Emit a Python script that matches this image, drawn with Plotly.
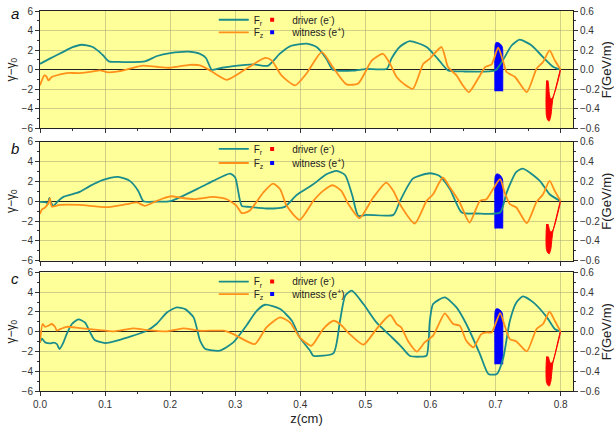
import plotly.graph_objects as go

# ---------------- data (F in GeV/m, beams in gamma - gamma0) ----------------
z_fr_a = [0.0, 0.01, 0.02, 0.035, 0.05, 0.064, 0.08, 0.09, 0.097, 0.106, 0.12, 0.14, 0.161, 0.18, 0.2, 0.228, 0.245, 0.255, 0.264,
          0.28, 0.297, 0.328, 0.35, 0.3686, 0.384, 0.41, 0.425, 0.44, 0.45, 0.48, 0.5, 0.533, 0.54, 0.553, 0.568, 0.594, 0.611,
          0.627, 0.65, 0.7, 0.711, 0.725, 0.737, 0.755, 0.768, 0.789, 0.8]
fr_a = [0.06, 0.095, 0.13, 0.18, 0.23, 0.255, 0.235, 0.19, 0.146, 0.085, 0.08, 0.078, 0.085, 0.14, 0.17, 0.185, 0.165, 0.12, 0.0,
        0.02, 0.037, 0.055, 0.04, 0.164, 0.239, 0.266, 0.232, 0.113, 0.0, -0.01, 0.007, 0.01, 0.113, 0.235, 0.293, 0.232, 0.113,
        -0.007, -0.018, -0.005, 0.095, 0.25, 0.307, 0.25, 0.163, 0.027, 0.0]

z_fz_a = [0.0, 0.0066, 0.01, 0.013, 0.018, 0.031, 0.041, 0.061, 0.08, 0.092, 0.105, 0.118, 0.138, 0.158, 0.179, 0.2, 0.23, 0.246,
          0.262, 0.287, 0.317, 0.346, 0.356, 0.371, 0.392, 0.41, 0.433, 0.45, 0.471, 0.489, 0.51, 0.527, 0.538, 0.548, 0.56,
          0.573, 0.589, 0.599, 0.617, 0.627, 0.64, 0.648, 0.659, 0.676, 0.684, 0.694, 0.704, 0.712, 0.717, 0.73, 0.748, 0.763,
          0.773, 0.783, 0.791, 0.8]
fz_a = [-0.16, -0.058, -0.07, -0.11, -0.075, -0.048, -0.034, -0.034, -0.02, -0.007, -0.028, -0.02, 0.01, 0.041, 0.03, 0.02, 0.05,
        0.044, -0.01, -0.103, 0.01, 0.12, 0.095, -0.058, -0.16, -0.034, 0.18, 0.027, -0.15, -0.14, 0.095, 0.163, 0.06, -0.075,
        -0.15, -0.195, 0.061, 0.113, 0.232, 0.027, -0.058, -0.143, -0.229, -0.058, 0.027, 0.055, 0.225, 0.078, -0.024, -0.075,
        -0.229, 0.01, 0.078, 0.198, 0.096, 0.0]

z_fr_b = [0.0, 0.0102, 0.012, 0.0143, 0.016, 0.0205, 0.028, 0.036, 0.046, 0.061, 0.077, 0.097, 0.12, 0.138, 0.151, 0.159, 0.18,
          0.2, 0.246, 0.266, 0.292, 0.3, 0.31, 0.322, 0.348, 0.376, 0.394, 0.42, 0.44, 0.456, 0.469, 0.48, 0.489, 0.502, 0.543,
          0.553, 0.573, 0.599, 0.614, 0.63, 0.648, 0.671, 0.707, 0.717, 0.732, 0.742, 0.768, 0.783, 0.8]
fr_b = [-0.007, -0.013, -0.03, 0.034, 0.0, -0.047, 0.003, 0.044, 0.064, 0.094, 0.155, 0.215, 0.245, 0.205, 0.104, 0.0, -0.005,
        0.0, 0.138, 0.205, 0.279, 0.239, -0.047, -0.057, -0.074, -0.057, 0.06, 0.171, 0.272, 0.306, 0.262, 0.054, -0.148,
        -0.138, -0.138, 0.0, 0.228, 0.282, 0.255, 0.121, -0.114, -0.124, -0.114, 0.087, 0.296, 0.329, 0.205, 0.07, 0.0]

z_fz_b = [0.0, 0.0026, 0.0077, 0.0133, 0.0154, 0.018, 0.031, 0.061, 0.102, 0.133, 0.149, 0.161, 0.174, 0.189, 0.202, 0.215,
          0.236, 0.246, 0.266, 0.287, 0.302, 0.31, 0.322, 0.343, 0.358, 0.369, 0.379, 0.399, 0.42, 0.435, 0.45, 0.463, 0.474,
          0.491, 0.512, 0.532, 0.543, 0.553, 0.576, 0.594, 0.604, 0.619, 0.63, 0.645, 0.66, 0.676, 0.686, 0.696, 0.707, 0.714,
          0.722, 0.732, 0.748, 0.763, 0.773, 0.783, 0.791, 0.8]
fz_b = [-0.13, -0.087, -0.064, -0.013, 0.027, -0.054, -0.037, -0.037, -0.06, -0.03, -0.013, -0.047, -0.013, 0.027, 0.05, 0.037,
        0.02, 0.027, 0.044, 0.02, -0.047, -0.12, -0.097, 0.087, 0.178, 0.121, -0.047, -0.188, 0.003, 0.104, 0.161, 0.104, -0.03,
        -0.171, 0.037, 0.188, 0.104, -0.03, -0.225, 0.003, 0.07, 0.239, 0.138, -0.013, -0.215, 0.003, 0.02, 0.121, 0.222, 0.087,
        -0.03, -0.064, -0.222, -0.007, 0.07, 0.205, 0.104, 0.0]

z_fr_c = [0.0, 0.003, 0.008, 0.0154, 0.0205, 0.026, 0.03, 0.036, 0.041, 0.049, 0.059, 0.069, 0.077, 0.084, 0.1, 0.118, 0.143,
          0.164, 0.179, 0.195, 0.21, 0.223, 0.236, 0.246, 0.254, 0.261, 0.276, 0.297, 0.317, 0.333, 0.346, 0.369, 0.387, 0.399,
          0.415, 0.42, 0.451, 0.461, 0.469, 0.479, 0.497, 0.517, 0.538, 0.555, 0.568, 0.584, 0.594, 0.599, 0.604, 0.622, 0.64,
          0.655, 0.676, 0.689, 0.702, 0.712, 0.722, 0.732, 0.742, 0.758, 0.779, 0.791, 0.8]
fr_c = [-0.108, -0.07, -0.108, -0.118, -0.111, -0.125, -0.175, -0.108, -0.024, 0.078, 0.125, 0.094, -0.007, -0.084, -0.115,
        -0.091, -0.04, 0.01, 0.078, 0.195, 0.246, 0.229, 0.145, -0.091, -0.175, -0.185, -0.192, -0.108, 0.061, 0.212, 0.273,
        0.229, 0.111, -0.057, -0.192, -0.243, -0.216, 0.111, 0.364, 0.415, 0.28, 0.094, -0.04, -0.15, -0.243, -0.253, -0.243,
        0.111, 0.28, 0.347, 0.246, 0.078, -0.226, -0.428, -0.428, -0.26, 0.111, 0.297, 0.357, 0.297, 0.145, 0.027, 0.0]

z_fz_c = [0.0, 0.004, 0.0077, 0.013, 0.018, 0.023, 0.026, 0.031, 0.041, 0.061, 0.092, 0.113, 0.143, 0.164, 0.195, 0.22, 0.246,
          0.282, 0.297, 0.33, 0.348, 0.369, 0.384, 0.399, 0.417, 0.435, 0.451, 0.461, 0.476, 0.497, 0.517, 0.538, 0.548, 0.555,
          0.566, 0.579, 0.591, 0.604, 0.614, 0.622, 0.635, 0.645, 0.655, 0.666, 0.678, 0.686, 0.694, 0.707, 0.714, 0.722, 0.732,
          0.748, 0.763, 0.773, 0.783, 0.791, 0.8]
fz_c = [-0.108, 0.078, 0.05, 0.061, 0.078, 0.05, 0.01, 0.027, 0.05, 0.037, 0.017, 0.003, 0.034, 0.017, 0.003, 0.034, 0.01, 0.01,
        -0.024, -0.125, 0.044, 0.145, 0.094, -0.057, -0.142, 0.027, 0.111, 0.078, -0.024, -0.131, 0.027, 0.169, 0.078, 0.044,
        -0.1, -0.202, -0.108, -0.04, 0.094, 0.185, 0.078, 0.061, -0.091, -0.158, -0.024, -0.007, -0.007, 0.189, 0.061, -0.074,
        -0.098, -0.199, 0.027, 0.078, 0.202, 0.111, 0.0]

# witness bunch (e+) outline in (z, gamma-gamma0)
wit_z = [0.699, 0.699, 0.6995, 0.7005, 0.702, 0.7045, 0.707, 0.709, 0.7105, 0.711, 0.711]
wit_g_a = [-2.2, 2.2, 2.55, 2.75, 2.8, 2.75, 2.65, 2.5, 2.3, 2.0, -2.2]
wit_g_b = [-2.75, 2.2, 2.5, 2.68, 2.75, 2.72, 2.62, 2.45, 2.25, 2.0, -2.75]
wit_g_c = [-3.3, 1.8, 2.1, 2.28, 2.33, 2.3, 2.2, 2.05, 1.85, 1.6, -3.3]

# driver bunch (e-) outline in (z, gamma-gamma0)
drv_z = [0.7785, 0.7778, 0.7775, 0.778, 0.780, 0.7825, 0.785, 0.7865, 0.788, 0.792, 0.796, 0.7995,
         0.799, 0.795, 0.791, 0.7875, 0.7845, 0.7825, 0.7815, 0.7805]
drv_g_a = [-1.1, -2.0, -3.5, -4.6, -5.15, -5.25, -4.7, -3.8, -3.0, -2.0, -0.9, 0.0,
           -0.3, -1.4, -2.3, -2.9, -3.0, -2.4, -1.6, -1.1]
drv_g_b = [-2.3, -3.0, -4.0, -4.8, -5.2, -5.3, -4.8, -3.9, -3.1, -2.0, -0.9, 0.0,
           -0.3, -1.4, -2.4, -3.0, -3.1, -2.8, -2.5, -2.3]
drv_g_c = [-2.5, -3.2, -4.2, -5.0, -5.4, -5.5, -5.0, -4.1, -3.2, -2.1, -0.9, 0.0,
           -0.3, -1.4, -2.4, -3.1, -3.2, -2.9, -2.6, -2.5]

panel_labels = ["a", "b", "c"]
x_ticks = [0.0, 0.1, 0.2, 0.3, 0.4, 0.5, 0.6, 0.7, 0.8]

TEAL = "#1A8C8C"
ORANGE = "#FF9019"
BG = "#FFFF99"
GRID = "rgba(170,170,120,0.55)"
FONT = "Liberation Sans, Arial, sans-serif"

panels = [
    (z_fr_a, fr_a, z_fz_a, fz_a, wit_g_a, drv_g_a),
    (z_fr_b, fr_b, z_fz_b, fz_b, wit_g_b, drv_g_b),
    (z_fr_c, fr_c, z_fz_c, fz_c, wit_g_c, drv_g_c),
]

domains = [[0.691, 1.0], [0.343, 0.656], [0.0, 0.312]]
# legend row centres (paper y) per panel
legend_rows = [(0.977, 0.944), (0.637, 0.600), (0.288, 0.255)]

fig = go.Figure()
layout = dict(
    width=614, height=427,
    margin=dict(l=40, r=41, t=11, b=36, autoexpand=False),
    paper_bgcolor="white", plot_bgcolor=BG,
    font=dict(family=FONT, size=10, color="#222"),
    showlegend=True,
)

leg_count = 0


def new_legend(x, y):
    global leg_count
    leg_count += 1
    key = "legend" if leg_count == 1 else f"legend{leg_count}"
    layout[key] = dict(x=x, y=y, xanchor="left", yanchor="middle",
                       bgcolor="rgba(0,0,0,0)", font=dict(size=10, color="#222"),
                       itemwidth=30, borderwidth=0)
    return key


for i, (zr, fr, zz, fz, wg, dg) in enumerate(panels):
    xa = "x" if i == 0 else f"x{i+1}"
    yl = f"y{2*i+1}" if i > 0 else "y"
    yr = f"y{2*i+2}"
    r1, r2 = legend_rows[i]
    lg_fr = new_legend(0.326, r1)
    lg_fz = new_legend(0.326, r2)
    lg_dr = new_legend(0.398, r1)
    lg_wi = new_legend(0.398, r2)
    # beams on left axis
    fig.add_trace(go.Scatter(x=wit_z, y=wg, mode="lines", fill="toself", fillcolor="#0000FF",
                             line=dict(color="#0000FF", width=1, shape="spline", smoothing=0.6),
                             xaxis=xa, yaxis=yl, showlegend=False, hoverinfo="skip"))
    fig.add_trace(go.Scatter(x=drv_z, y=dg, mode="lines", fill="toself", fillcolor="#FF0000",
                             line=dict(color="#FF0000", width=1, shape="spline", smoothing=0.5),
                             xaxis=xa, yaxis=yl, showlegend=False, hoverinfo="skip"))
    # fields on right axis
    fig.add_trace(go.Scatter(x=zr, y=fr, mode="lines", name="F<sub>r</sub>",
                             line=dict(color=TEAL, width=1.8, shape="spline", smoothing=0.6),
                             xaxis=xa, yaxis=yr, legend=lg_fr))
    fig.add_trace(go.Scatter(x=zz, y=fz, mode="lines", name="F<sub>z</sub>",
                             line=dict(color=ORANGE, width=1.8, shape="spline", smoothing=0.6),
                             xaxis=xa, yaxis=yr, legend=lg_fz))
    # legend entries for the bunches
    fig.add_trace(go.Scatter(x=[None], y=[None], mode="markers", name="driver (e<sup>-</sup>)",
                             marker=dict(symbol="square", size=4, color="#FF0000"),
                             xaxis=xa, yaxis=yl, legend=lg_dr))
    fig.add_trace(go.Scatter(x=[None], y=[None], mode="markers", name="witness (e<sup>+</sup>)",
                             marker=dict(symbol="square", size=4, color="#0000FF"),
                             xaxis=xa, yaxis=yl, legend=lg_wi))

    ax_key = "xaxis" if i == 0 else f"xaxis{i+1}"
    yl_key = "yaxis" if i == 0 else f"yaxis{2*i+1}"
    yr_key = f"yaxis{2*i+2}"
    layout[ax_key] = dict(
        domain=[0, 1], anchor=yl, range=[0, 0.819], tickvals=x_ticks,
        ticktext=[f"{v:.1f}" for v in x_ticks], automargin=False,
        showticklabels=(i == 2), ticks="outside", ticklen=4, tickcolor="#333",
        minor=dict(dtick=0.05, tick0=0, ticks="outside", ticklen=2, tickcolor="#333", showgrid=False),
        showline=True, linecolor="#222", linewidth=1, mirror=True,
        showgrid=True, gridcolor=GRID, gridwidth=1, zeroline=False,
        tickfont=dict(size=10, color="#333"),
        title=dict(text="z(cm)", font=dict(size=13, color="#222"), standoff=4) if i == 2 else None,
    )
    if i > 0:
        layout[ax_key]["matches"] = "x"
    layout[yl_key] = dict(
        domain=domains[i], anchor=xa, range=[-6, 6], tickvals=[-6, -4, -2, 0, 2, 4, 6],
        automargin=False, ticks="outside", ticklen=4, tickcolor="#333",
        minor=dict(dtick=1, ticks="outside", ticklen=2, tickcolor="#333", showgrid=False),
        showline=True, linecolor="#222", linewidth=1,
        showgrid=True, gridcolor=GRID, gridwidth=1,
        zeroline=True, zerolinecolor="#222", zerolinewidth=1,
        tickfont=dict(size=10, color="#333"),
        title=dict(text="\u03b3\u2212\u03b3<sub>0</sub>", font=dict(size=12, color="#222"), standoff=3),
    )
    layout[yr_key] = dict(
        overlaying=yl, side="right", anchor=xa, range=[-0.6, 0.6],
        tickvals=[-0.6, -0.4, -0.2, 0.0, 0.2, 0.4, 0.6], tickformat=".1f", automargin=False,
        ticks="outside", ticklen=4, tickcolor="#333",
        minor=dict(dtick=0.1, ticks="outside", ticklen=2, tickcolor="#333", showgrid=False),
        showline=True, linecolor="#222", linewidth=1,
        showgrid=False, zeroline=False,
        tickfont=dict(size=10, color="#333"),
        title=dict(text="F(GeV/m)", font=dict(size=13, color="#222"), standoff=3),
    )

annotations = []
label_y = [0.993, 0.638, 0.296]
for lab, yy in zip(panel_labels, label_y):
    annotations.append(dict(text=f"<i>{lab}</i>", x=-0.047, y=yy, xref="paper", yref="paper",
                            showarrow=False, font=dict(size=15, color="#111"), xanchor="center", yanchor="middle"))
layout["annotations"] = annotations

fig.update_layout(**layout)
# remove the browser's default 8px body margin so the figure sits at the page origin
fig.write_html("out.html", config={"displayModeBar": False},
               post_script="document.body.style.margin='0px';")
